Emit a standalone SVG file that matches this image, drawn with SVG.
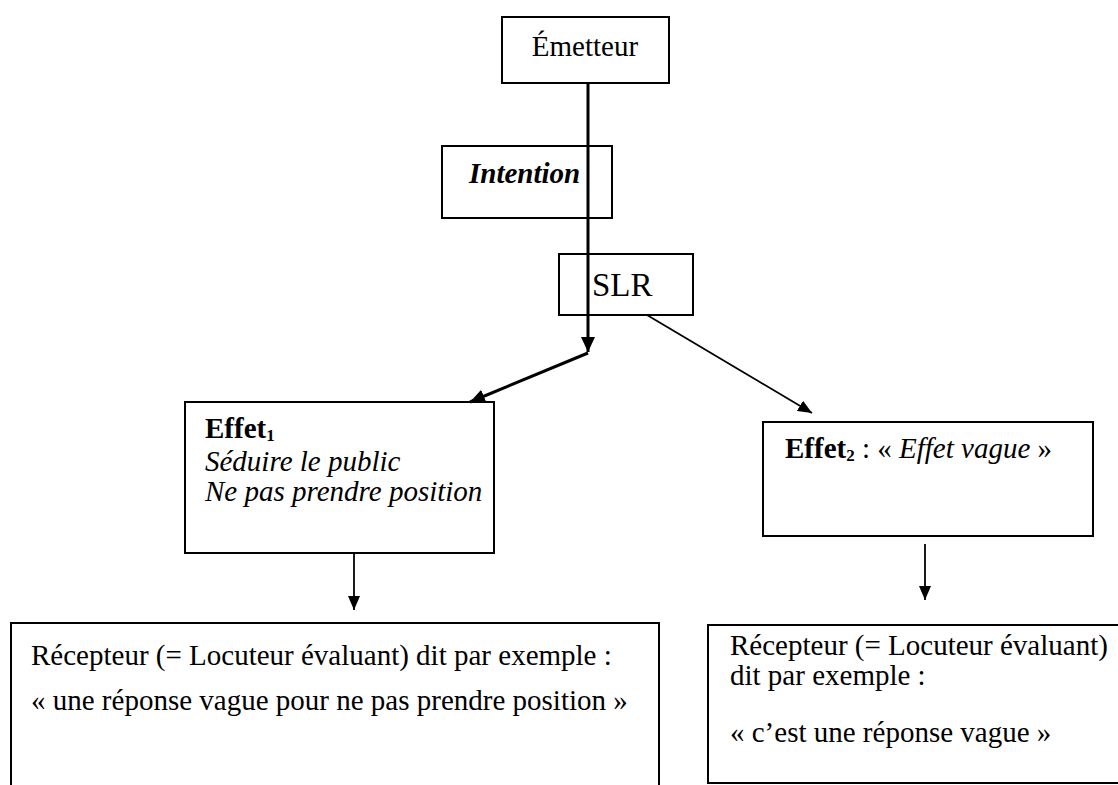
<svg xmlns="http://www.w3.org/2000/svg" width="1118" height="785" viewBox="0 0 1118 785">
<style>
.box{fill:#fff;stroke:#000;stroke-width:2}
.t{font-family:"Liberation Serif","Times New Roman",serif;font-size:29px;fill:#000}
.b{font-weight:bold}
.i{font-style:italic}
.sub{font-size:17px;font-weight:bold}
.thick{stroke:#000;stroke-width:3;fill:none}
.thin{stroke:#000;stroke-width:1.8;fill:none}
</style>
<defs>
<marker id="ahThick" markerUnits="userSpaceOnUse" markerWidth="16" markerHeight="14" refX="15" refY="7" orient="auto">
<path d="M0,0 L15,7 L0,14 z" fill="#000"/>
</marker>
<marker id="ahThin" markerUnits="userSpaceOnUse" markerWidth="14" markerHeight="12" refX="14" refY="6" orient="auto">
<path d="M0,0 L14,6 L0,12 z" fill="#000"/>
</marker>
</defs>
<rect width="1118" height="785" fill="#fff"/>
<g id="emetteur">
<rect class="box" x="502" y="17" width="167" height="66"/>
<text class="t" x="585" y="56" text-anchor="middle">Émetteur</text>
</g>
<g id="intention">
<rect class="box" x="442" y="146" width="170" height="72"/>
<text class="t b i" x="469" y="183">Intention</text>
</g>
<g id="slr">
<rect class="box" x="559" y="254" width="134" height="61"/>
<text class="t" x="592" y="296" style="font-size:33px">SLR</text>
</g>
<g id="effet1">
<rect class="box" x="185" y="402" width="309" height="151"/>
<text class="t" x="205" y="438"><tspan class="b">Effet</tspan><tspan class="sub" dy="3">1</tspan></text>
<text class="t i" x="205" y="471">Séduire le public</text>
<text class="t i" x="205" y="501">Ne pas prendre position</text>
</g>
<g id="effet2">
<rect class="box" x="763" y="422" width="330" height="114"/>
<text class="t" x="785" y="458"><tspan class="b">Effet</tspan><tspan class="sub" dy="3">2</tspan><tspan dy="-3"> : « </tspan><tspan class="i">Effet vague</tspan><tspan> »</tspan></text>
</g>
<g id="recepteur1">
<path class="box" d="M11,785 V623 H659 V785" fill="none"/>
<text class="t" x="31" y="665">Récepteur (= Locuteur évaluant) dit par exemple :</text>
<text class="t" x="31" y="710">« une réponse vague pour ne pas prendre position »</text>
</g>
<g id="recepteur2">
<rect class="box" x="708" y="625" width="420" height="158"/>
<text class="t" x="730" y="655">Récepteur (= Locuteur évaluant)</text>
<text class="t" x="730" y="685">dit par exemple :</text>
<text class="t" x="730" y="742"> « c’est une réponse vague »</text>
</g>
<g id="connectors">
<line class="thick" x1="588" y1="83" x2="588" y2="352" marker-end="url(#ahThick)"/>
<line class="thick" x1="588" y1="353" x2="470" y2="402" marker-end="url(#ahThick)"/>
<line class="thin" x1="647" y1="315" x2="812" y2="413" marker-end="url(#ahThin)"/>
<line class="thin" x1="354" y1="553" x2="354" y2="610" marker-end="url(#ahThin)"/>
<line class="thin" x1="925" y1="544" x2="925" y2="600" marker-end="url(#ahThin)"/>
</g>
</svg>
